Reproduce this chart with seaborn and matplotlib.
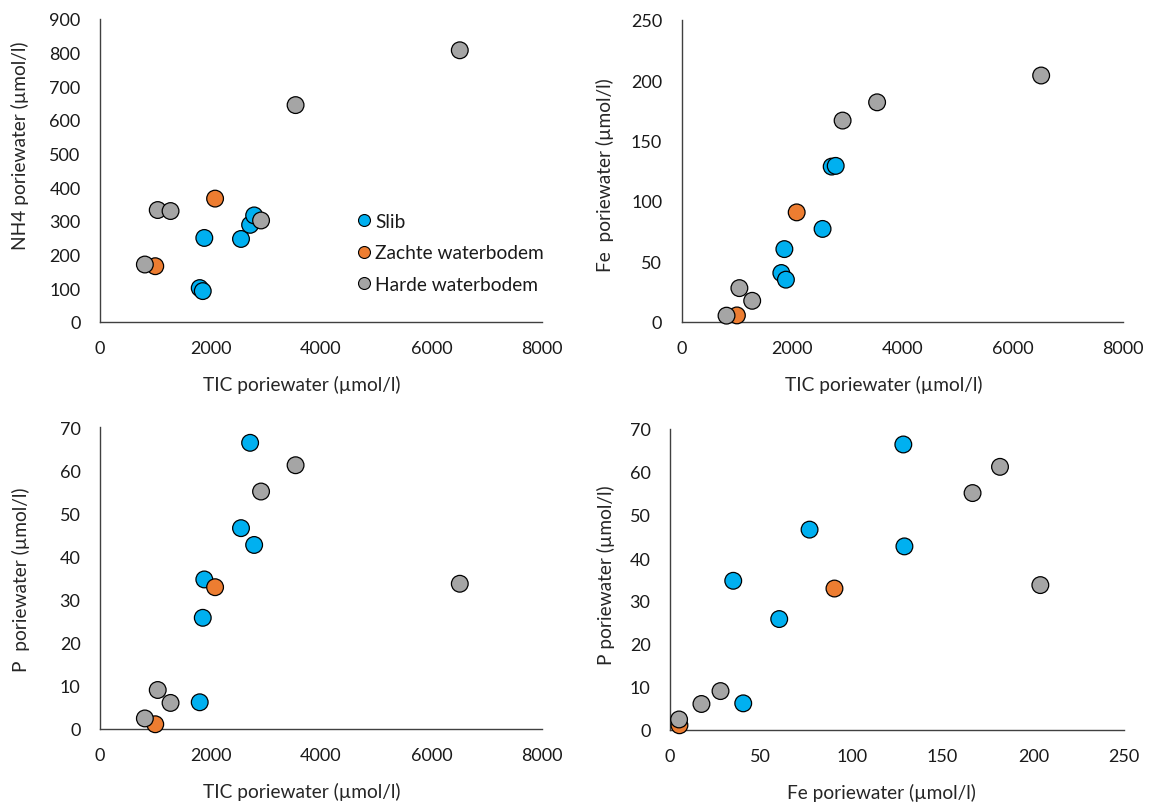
import matplotlib
matplotlib.use("Agg")
import matplotlib.pyplot as plt
from matplotlib.lines import Line2D
import seaborn as sns
import pandas as pd

# ---- data (one entry per sample) ----
categories = ["Slib", "Zachte waterbodem", "Harde waterbodem"]
sample_cat = ["Slib"] * 6 + ["Zachte waterbodem"] * 2 + ["Harde waterbodem"] * 6
tic = [1805, 1860, 1888, 2552, 2717, 2790, 1000, 2083, 812, 1045, 1277, 2915, 3540, 6512]
nh4 = [100, 91, 249, 246, 288, 316, 165, 366, 170, 332, 329, 301, 644, 807]
fe = [40.3, 60.1, 34.8, 76.8, 128.4, 129.0, 5.2, 90.5, 5.0, 27.8, 17.3, 166.5, 181.6, 203.8]
p = [6.2, 25.8, 34.7, 46.6, 66.4, 42.7, 1.1, 32.9, 2.45, 9.05, 6.05, 55.1, 61.2, 33.7]
colors = ["#00B0F0", "#ED7D31", "#A5A5A5"]

df = pd.DataFrame({"cat": sample_cat, "TIC": tic, "NH4": nh4, "Fe": fe, "P": p})

sns.set_theme(style="white")
plt.rcParams["font.family"] = ["Lato", "DejaVu Sans"]
plt.rcParams["text.color"] = "#1a1a1a"

fig = plt.figure(figsize=(11.5, 8.03), dpi=100)
W, H = 1150, 803

def axes_px(x0, x1, ytop, ybot):
    return fig.add_axes([x0 / W, 1 - ybot / H, (x1 - x0) / W, (ybot - ytop) / H])

ax1 = axes_px(100, 542, 20, 322.7)
ax2 = axes_px(681.7, 1123.3, 20.7, 322.7)
ax3 = axes_px(100, 542, 428.3, 730)
ax4 = axes_px(670, 1124.3, 430, 731)

palette = dict(zip(categories, colors))
FS_TICK = 13
FS_LAB = 13.8

specs = [
    (ax1, "TIC", "NH4", (0, 8000), [0, 2000, 4000, 6000, 8000], (0, 900), list(range(0, 901, 100)),
     "TIC poriewater (µmol/l)", "NH4 poriewater (µmol/l)", (0.457, -0.206), (-0.181, 0.584)),
    (ax2, "TIC", "Fe", (0, 8000), [0, 2000, 4000, 6000, 8000], (0, 250), list(range(0, 251, 50)),
     "TIC poriewater (µmol/l)", "Fe  poriewater (µmol/l)", (0.457, -0.206), (-0.174, 0.489)),
    (ax3, "TIC", "P", (0, 8000), [0, 2000, 4000, 6000, 8000], (0, 70), list(range(0, 71, 10)),
     "TIC poriewater (µmol/l)", "P  poriewater (µmol/l)", (0.457, -0.2045), (-0.179, 0.497)),
    (ax4, "Fe", "P", (0, 250), [0, 50, 100, 150, 200, 250], (0, 70), list(range(0, 71, 10)),
     "Fe poriewater (µmol/l)", "P poriewater (µmol/l)", (0.466, -0.207), (-0.1415, 0.518)),
]

for ax, xc, yc, xl, xt, yl, yt, xlab, ylab, xlc, ylc in specs:
    sns.scatterplot(data=df, x=xc, y=yc, hue="cat", hue_order=categories, palette=palette,
                    s=145, edgecolor="black", linewidth=0.9, ax=ax, legend=False, clip_on=False,
                    zorder=3)
    ax.set_xlim(*xl)
    ax.set_ylim(*yl)
    ax.set_xticks(xt)
    ax.set_yticks(yt)
    ax.tick_params(axis="both", length=0, labelsize=FS_TICK, colors="#1a1a1a")
    ax.tick_params(axis="x", pad=13)
    ax.tick_params(axis="y", pad=14)
    for s in ["top", "right"]:
        ax.spines[s].set_visible(False)
    for s in ["left", "bottom"]:
        ax.spines[s].set_color("#404040")
        ax.spines[s].set_linewidth(1.0)
    ax.set_facecolor("white")
    ax.grid(False)
    ax.set_xlabel(xlab, fontsize=FS_LAB, va="center")
    ax.set_ylabel(ylab, fontsize=FS_LAB, va="center")
    ax.xaxis.set_label_coords(*xlc)
    ax.yaxis.set_label_coords(*ylc)

handles = [Line2D([0], [0], marker="o", linestyle="none", markerfacecolor=c,
                  markeredgecolor="black", markeredgewidth=0.8, markersize=8.6) for c in colors]
ax1.legend(handles, categories, loc="center left", bbox_to_anchor=(0.581, 0.227),
           frameon=False, fontsize=FS_LAB, handlelength=0.75, handletextpad=0.2,
           labelspacing=0.75, borderpad=0, borderaxespad=0)

fig.savefig("out.png", dpi=100, facecolor="white")
